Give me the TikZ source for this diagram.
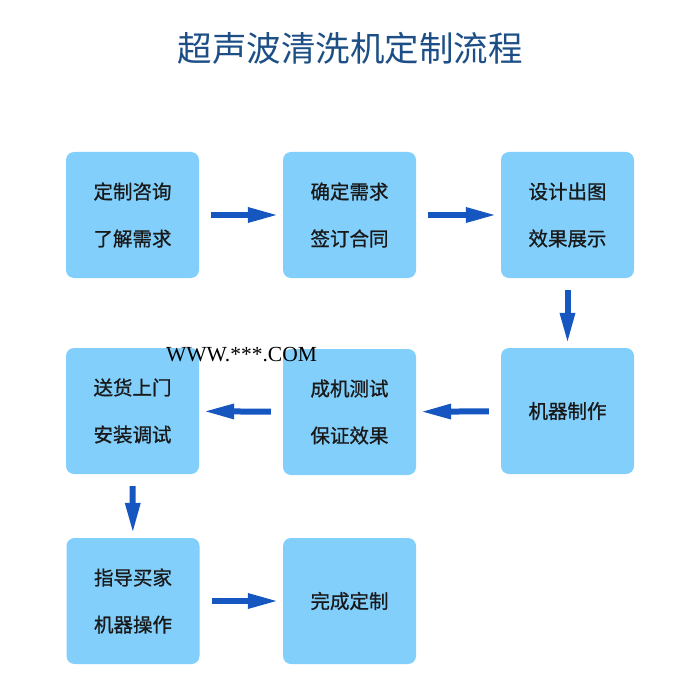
\documentclass[tikz,border=0pt]{standalone}
\usepackage{fontspec}
\newfontfamily\cjk{Noto Sans CJK SC}
\newfontfamily\cjkbox[FakeBold=0.9]{Noto Sans CJK SC}
\newfontfamily\wmfont{Liberation Serif}
\usetikzlibrary{arrows.meta}

\definecolor{boxblue}{HTML}{82CFFC}
\definecolor{arrowblue}{HTML}{1556C0}
\definecolor{titleblue}{HTML}{1D4F86}

\tikzset{
  stepbox/.style={fill=boxblue,rounded corners=8pt,minimum width=133pt,
    minimum height=126pt,align=center,text=black!90,
    font=\cjkbox\fontsize{19.5}{47}\selectfont},
  flow/.style={-{Triangle[length=31pt,width=14pt]},line width=6pt,
    draw=arrowblue,shorten <=12pt,shorten >=4pt}
}

\begin{document}
\begin{tikzpicture}[x=1pt,y=-1pt]
\useasboundingbox (0,0) rectangle (700,700);

\node [text=titleblue,font=\cjk\fontsize{34.5}{40}\selectfont] (title) at (350,48) {超声波清洗机定制流程};

\node [stepbox] (ask) at (132.5,215) {定制咨询\\了解需求};
\node [stepbox] (sign) at (349.5,215) {确定需求\\签订合同};
\node [stepbox] (design) at (567.5,215) {设计出图\\效果展示};
\node [stepbox] (make) at (567.5,411) {机器制作};
\node [stepbox] (test) at (349.5,412) {成机测试\\保证效果};
\node [stepbox] (ship) at (132.5,411) {送货上门\\安装调试};
\node [stepbox] (teach) at (133,601) {指导买家\\机器操作};
\node [stepbox] (done) at (349.5,601) {完成定制};

\node [font=\wmfont\fontsize{21.5}{24}\selectfont] (mark) at (241.5,355) {WWW.***.COM};

\draw [flow] (ask) -- (sign);
\draw [flow] (sign) -- (design);
\draw [flow] (design) -- (make);
\draw [flow] (make) -- (test);
\draw [flow] (test) -- (ship);
\draw [flow] (ship) -- (teach);
\draw [flow] (teach) -- (done);

\end{tikzpicture}
\end{document}
